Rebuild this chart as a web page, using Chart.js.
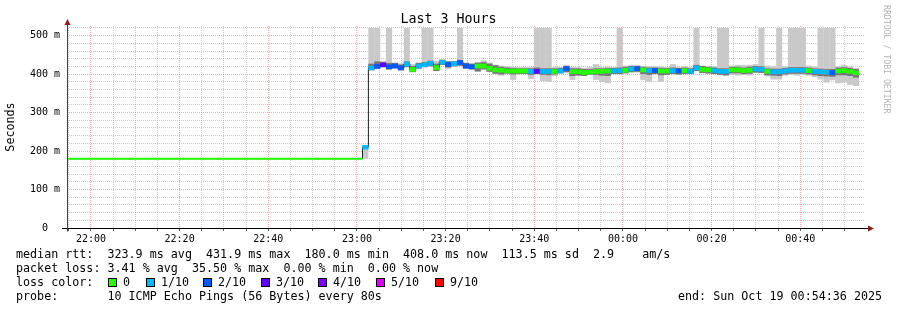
<!DOCTYPE html>
<html>
<head>
<meta charset="utf-8">
<title>Last 3 Hours</title>
<script src="https://cdn.jsdelivr.net/npm/chart.js@4.4.1/dist/chart.umd.min.js"></script>
<style>
    body { margin: 0; background: #fff; }
    #wrap { position: relative; width: 897px; height: 310px; overflow: hidden; font-family: "DejaVu Sans Mono", monospace; }
    #chart { position: absolute; left: 0; top: 0; }
    .txt { position: absolute; white-space: pre; font-size: 11.7px; line-height: 14px; color: #000; }
    #title { position: absolute; left: 0; top: 11px; width: 897px; text-align: center; font-size: 13.3px; line-height: 16px; }
    #credit { position: absolute; left: 882px; top: 5px; writing-mode: vertical-rl; font-size: 8.2px; color: #b4b4b4; white-space: pre; }
    .sw { position: absolute; top: 278px; width: 9px; height: 9px; box-sizing: border-box; border: 1px solid #000; }
</style>
</head>
<body>
<div id="wrap">
    <canvas id="chart" width="897" height="310"></canvas>
    <div id="title">Last 3 Hours</div>
    <div id="credit">RRDTOOL / TOBI OETIKER</div>
    <div id="legend"></div>
</div>
<script>
// time window and probe schedule
const plotStart = '21:54:36';
const plotEnd = '00:54:36';
const firstProbe = '23:01:15';
const probeEvery = 80; // seconds between probes
const earlyRtt = 180;  // flat median before the first probe shown

// median rtt per probe (ms)
const medianRtt = [
    210, 416, 420, 424, 419, 421, 416, 426, 412, 421,
    424, 428, 417, 431, 425, 427, 430, 421, 419, 421,
    421, 415, 411, 410, 408, 408, 408, 408, 407, 407,
    407, 407, 407, 408, 414, 406, 406, 404, 405, 407,
    407, 408, 408, 409, 410, 413, 414, 411, 409, 409,
    408, 408, 409, 408, 409, 407, 416, 412, 411, 409,
    407, 407, 411, 411, 409, 410, 413, 412, 407, 406,
    406, 408, 410, 410, 410, 409, 407, 406, 405, 404,
    408, 409, 407, 403
];
// lost pings out of 10
const lossTenths = [
    1, 1, 2, 3, 2, 2, 2, 1, 0, 1,
    1, 1, 0, 1, 2, 1, 2, 2, 2, 0,
    0, 0, 0, 0, 0, 0, 0, 0, 1, 3,
    1, 1, 0, 1, 2, 0, 0, 0, 0, 0,
    0, 0, 1, 1, 0, 1, 2, 0, 1, 2,
    0, 0, 1, 2, 0, 1, 1, 0, 0, 1,
    1, 1, 0, 0, 0, 0, 1, 1, 0, 1,
    1, 1, 1, 1, 1, 0, 1, 1, 1, 2,
    0, 0, 0, 0
];
// smoke: slowest / fastest ping
const pingMax = [
    215, 520, 520, 434, 520, 430, 428, 520, 426, 430,
    520, 520, 434, 438, 434, 434, 520, 430, 428, 430,
    436, 430, 424, 422, 420, 418, 418, 418, 418, 520,
    520, 520, 418, 418, 424, 418, 418, 416, 418, 426,
    418, 420, 418, 520, 422, 424, 424, 420, 420, 420,
    420, 418, 426, 418, 420, 418, 520, 422, 420, 420,
    520, 520, 422, 424, 424, 424, 426, 520, 422, 420,
    520, 420, 520, 520, 520, 422, 420, 520, 520, 520,
    420, 424, 420, 416
];
const pingMin = [
    180, 410, 414, 418, 412, 415, 410, 418, 405, 414,
    418, 420, 408, 424, 414, 420, 420, 414, 412, 406,
    412, 406, 400, 396, 401, 385, 400, 400, 387, 400,
    382, 380, 395, 402, 404, 385, 396, 395, 398, 385,
    380, 376, 400, 400, 402, 404, 404, 385, 380, 400,
    380, 398, 400, 398, 400, 400, 408, 402, 400, 400,
    398, 395, 398, 396, 398, 396, 404, 402, 394, 386,
    386, 396, 398, 396, 398, 396, 392, 386, 378, 384,
    376, 378, 372, 369
];
// smoke: dense core around the median
const pingHighQ = [
    210, 427, 433, 431, 429, 429, 425, 433, 421, 429,
    431, 435, 427, 437, 433, 433, 437, 429, 427, 430,
    431, 427, 423, 419, 417, 416, 415, 415, 415, 417,
    415, 415, 415, 416, 421, 415, 415, 413, 413, 415,
    415, 416, 416, 417, 419, 421, 421, 419, 417, 417,
    416, 416, 417, 416, 417, 415, 424, 421, 419, 417,
    415, 415, 419, 419, 417, 419, 421, 420, 415, 414,
    414, 416, 418, 418, 418, 417, 415, 414, 413, 413,
    417, 418, 416, 413
];
const pingLowQ = [
    210, 410, 414, 418, 412, 415, 410, 418, 405, 414,
    418, 420, 408, 424, 417, 420, 422, 414, 412, 407,
    412, 406, 401, 399, 401, 399, 400, 400, 398, 400,
    398, 397, 399, 402, 405, 395, 396, 395, 398, 398,
    396, 395, 400, 400, 402, 405, 406, 400, 398, 400,
    397, 398, 400, 399, 400, 400, 408, 403, 402, 400,
    398, 397, 402, 402, 400, 401, 404, 403, 397, 396,
    395, 399, 401, 401, 401, 399, 397, 395, 394, 393,
    397, 397, 395, 391
];

const yMax = 525;
const lossLabels = ['0', '1/10', '2/10', '3/10', '4/10', '5/10', '9/10'];
const lossColors = { 0: '#26ff00', 1: '#00b8ff', 2: '#0059ff', 3: '#5e00ff', 4: '#7e00ff', 5: '#dd00ff', 9: '#ff0000' };

const statLines = [
    'median rtt:  323.9 ms avg  431.9 ms max  180.0 ms min  408.0 ms now  113.5 ms sd  2.9    am/s',
    'packet loss: 3.41 % avg  35.50 % max  0.00 % min  0.00 % now',
    'loss color:',
    'probe:       10 ICMP Echo Pings (56 Bytes) every 80s'
];
const endStamp = 'end: Sun Oct 19 00:54:36 2025';

// seconds counted from 21:00
function secs(hms) {
    const [h, m, s] = hms.split(':').map(Number);
    return ((h - 21 + 24) % 24) * 3600 + m * 60 + s;
}
function hhmm(v) {
    const h = (21 + Math.floor(v / 3600)) % 24;
    const m = Math.floor((v % 3600) / 60);
    return String(h).padStart(2, '0') + ':' + String(m).padStart(2, '0');
}

const xMin = secs(plotStart);
const xMax = secs(plotEnd);
const t0 = secs(firstProbe);
const probeTimes = medianRtt.map((_, i) => t0 + i * probeEvery);
const centre = t => t + probeEvery / 2;
const lastIdx = medianRtt.length - 1;

const medianBand = 6; // half thickness of the coloured median mark (ms)
const minorGrid = 300, majorGrid = 1200;

// legend below the graph
const legend = document.getElementById('legend');
statLines.forEach((line, i) => {
    const d = document.createElement('div');
    d.className = 'txt';
    d.style.left = '16px';
    d.style.top = (247 + i * 14) + 'px';
    d.textContent = line;
    legend.appendChild(d);
});
const swatchX = [108, 146, 203, 261, 318, 376, 435];
const labelX = [123, 161, 218, 276, 333, 391, 450];
const lossKeys = [0, 1, 2, 3, 4, 5, 9];
lossLabels.forEach((lab, i) => {
    const sq = document.createElement('div');
    sq.className = 'sw';
    sq.style.left = swatchX[i] + 'px';
    sq.style.background = lossColors[lossKeys[i]];
    legend.appendChild(sq);
    const t = document.createElement('div');
    t.className = 'txt';
    t.style.left = labelX[i] + 'px';
    t.style.top = (247 + 2 * 14) + 'px';
    t.textContent = lab;
    legend.appendChild(t);
});
const endDiv = document.createElement('div');
endDiv.className = 'txt';
endDiv.style.left = '678px';
endDiv.style.top = (247 + 3 * 14) + 'px';
endDiv.textContent = endStamp;
legend.appendChild(endDiv);

// axis lines with the rrdtool arrow heads
const axisArrows = {
    id: 'axisArrows',
    afterDraw(chart) {
        const { ctx, chartArea: a, scales: { y } } = chart;
        const y0 = Math.round(y.getPixelForValue(0)) + 0.5;
        const x0 = Math.round(a.left) + 0.5;
        ctx.save();
        ctx.lineWidth = 1;
        ctx.strokeStyle = '#000';
        ctx.beginPath();
        ctx.moveTo(a.left - 5, y0);
        ctx.lineTo(a.right + 4, y0);
        ctx.stroke();
        ctx.strokeStyle = '#404040';
        ctx.beginPath();
        ctx.moveTo(x0, y0 + 3);
        ctx.lineTo(x0, a.top - 2);
        ctx.stroke();
        ctx.fillStyle = '#8b1c1c';
        ctx.beginPath();
        ctx.moveTo(x0, a.top - 7);
        ctx.lineTo(x0 - 3, a.top - 1);
        ctx.lineTo(x0 + 3, a.top - 1);
        ctx.closePath();
        ctx.fill();
        ctx.beginPath();
        ctx.moveTo(a.right + 9, y0);
        ctx.lineTo(a.right + 3, y0 - 3);
        ctx.lineTo(a.right + 3, y0 + 3);
        ctx.closePath();
        ctx.fill();
        ctx.restore();
    }
};

Chart.defaults.font.family = '"DejaVu Sans Mono", monospace';
Chart.defaults.font.size = 10;
Chart.defaults.color = '#000';

const ctx = document.getElementById('chart').getContext('2d');
const chart = new Chart(ctx, {
    type: 'bar',
    data: {
        datasets: [
            {
                type: 'line',
                label: 'before',
                data: [{ x: xMin, y: earlyRtt }, { x: t0, y: earlyRtt }],
                borderColor: lossColors[0],
                borderWidth: 2,
                pointRadius: 0,
                order: 1
            },
            {
                label: 'median',
                data: probeTimes.map((t, i) => ({ x: centre(t), y: [medianRtt[i] - medianBand, medianRtt[i] + medianBand] })),
                backgroundColor: lossTenths.map(l => lossColors[l]),
                grouped: false,
                barPercentage: 1,
                categoryPercentage: 1.03,
                order: 2
            },
            {
                type: 'line',
                label: 'median line',
                data: [{ x: xMin, y: earlyRtt }]
                    .concat(probeTimes.map((t, i) => ({ x: t, y: medianRtt[i] })))
                    .concat([{ x: probeTimes[lastIdx] + probeEvery, y: medianRtt[lastIdx] }]),
                stepped: 'before',
                borderColor: '#202020',
                borderWidth: 1,
                pointRadius: 0,
                order: 3
            },
            {
                label: 'smoke core',
                data: probeTimes.map((t, i) => ({ x: centre(t), y: [pingLowQ[i], pingHighQ[i]] })),
                backgroundColor: '#767676',
                grouped: false,
                barPercentage: 1,
                categoryPercentage: 1.03,
                order: 4
            },
            {
                label: 'smoke',
                data: probeTimes.map((t, i) => ({ x: centre(t), y: [pingMin[i], pingMax[i]] })),
                backgroundColor: '#c9c9c9',
                grouped: false,
                barPercentage: 1,
                categoryPercentage: 1.03,
                order: 5
            }
        ]
    },
    options: {
        responsive: false,
        animation: false,
        events: [],
        layout: { padding: { top: 26, right: 32, left: 0, bottom: 0 } },
        plugins: { legend: { display: false }, tooltip: { enabled: false } },
        scales: {
            x: {
                type: 'linear',
                min: xMin,
                max: xMax,
                offset: false,
                afterFit: s => { s.height = 82; },
                afterBuildTicks: s => {
                    const t = [];
                    for (let v = Math.ceil(s.min / minorGrid) * minorGrid; v <= s.max; v += minorGrid) t.push({ value: v });
                    s.ticks = t;
                },
                ticks: {
                    autoSkip: false,
                    maxRotation: 0,
                    minRotation: 0,
                    padding: 2,
                    callback: v => v % majorGrid === 0 ? hhmm(v) : ''
                },
                grid: {
                    offset: false,
                    tickLength: 3,
                    tickColor: '#606060',
                    color: c => c.tick && c.tick.value % majorGrid === 0 ? 'rgba(255,91,91,0.55)' : 'rgba(150,150,150,0.5)'
                },
                border: { display: false, dash: [1, 1] }
            },
            y: {
                min: 0,
                max: yMax,
                afterFit: s => { s.width = 67; },
                ticks: {
                    stepSize: 20,
                    includeBounds: false,
                    autoSkip: false,
                    padding: 7,
                    callback: v => v % 100 === 0 ? (v === 0 ? '0  ' : v + ' m') : ''
                },
                grid: {
                    drawTicks: false,
                    color: c => c.tick && c.tick.value % 100 === 0 ? 'rgba(255,91,91,0.55)' : 'rgba(150,150,150,0.5)'
                },
                border: { display: false, dash: [1, 1] },
                title: {
                    display: true,
                    text: 'Seconds',
                    font: { size: 11.7 },
                    padding: { top: 4, bottom: 0 }
                }
            }
        }
    },
    plugins: [axisArrows]
});
</script>
</body>
</html>
